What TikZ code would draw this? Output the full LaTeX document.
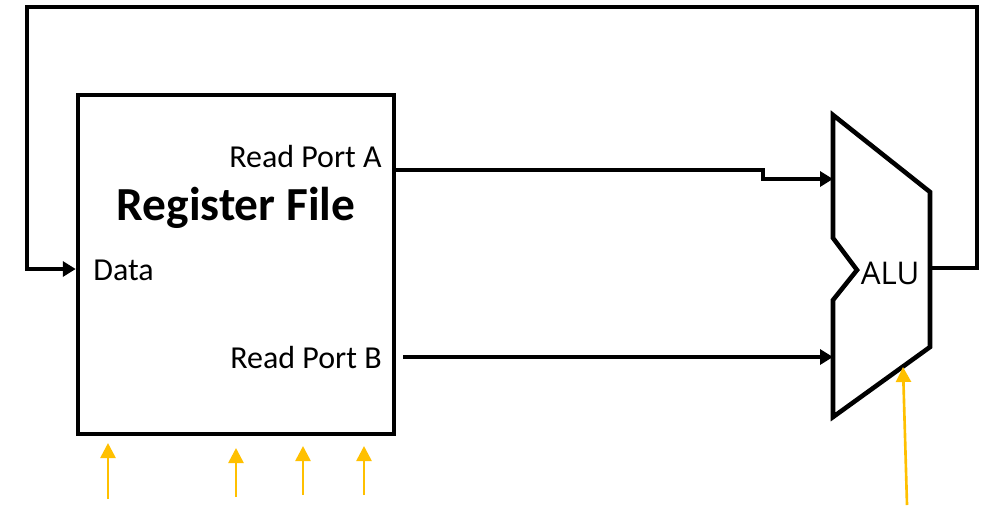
\documentclass[tikz,border=0pt]{standalone}
\usepackage{fontspec}
\setmainfont{Carlito}
\newfontfamily\alufont{Open Sans}
\usetikzlibrary{arrows.meta}
\definecolor{ctlgold}{HTML}{FFC000}

\tikzset{
  wire/.style={line width=2.6pt},
  bus/.style={wire, -{Triangle[length=0.26cm,width=0.3cm]}},
  ctl/.style={line width=1.5pt, ctlgold, -{Triangle[length=0.3cm,width=0.3cm]}},
  lbl/.style={inner sep=0pt, font=\fontsize{18.2}{20}\selectfont}
}

\begin{document}
\begin{tikzpicture}[x=0.02cm, y=-0.02cm]
          \useasboundingbox (0,0) rectangle (986,505);
          % register file
          \node[wire, draw, minimum width=6.32cm, minimum height=6.78cm, inner sep=0pt] (rf) at (236,264.5) {};
          \node[inner sep=0pt, font=\bfseries\fontsize{27}{30}\selectfont] (title) at (236,208) {Register File};
          \node[lbl, anchor=east] (portA) at (382,157) {Read Port A};
          \node[lbl, anchor=east] (portB) at (382,358) {Read Port B};
          \node[lbl, anchor=west] (data) at (93,270) {Data};
          % alu
          \coordinate (aluA) at (833,179);
          \coordinate (aluB) at (833,357);
          \coordinate (aluOut) at (930,268);
          \coordinate (aluCtl) at (903,367);
          \draw[wire, line join=miter] (833,115) -- (930,192) -- (930,347) -- (833,417) -- (833,300)
               -- (857,270) -- (833,238) -- cycle;
          \node[inner sep=0pt, font=\alufont\fontsize{17.8}{20}\selectfont] (alu) at (890,273) {ALU};
          % buses
          \coordinate (outA) at (394,170);
          \coordinate (outB) at (403,357);
          \coordinate (dIn) at (rf.west |- 0,269);
          \draw[bus] (outA) -- (763,170) -- (763,179) -- (aluA);
          \draw[bus] (outB) -- (aluB);
          \draw[bus] (aluOut) -- (977,268) -- (977,7) -- (27,7) -- (27,269) -- (dIn);
          % control inputs
          \coordinate (c1) at (108,499);
          \coordinate (c2) at (236,497);
          \coordinate (c3) at (303,495);
          \coordinate (c4) at (364,495);
          \coordinate (c5) at (907,505);
          \draw[ctl] (c1) -- (108,443);
          \draw[ctl] (c2) -- (236,448);
          \draw[ctl] (c3) -- (303,446);
          \draw[ctl] (c4) -- (364,446);
          \draw[ctl] (c5) -- (aluCtl);
        \end{tikzpicture}
\end{document}
